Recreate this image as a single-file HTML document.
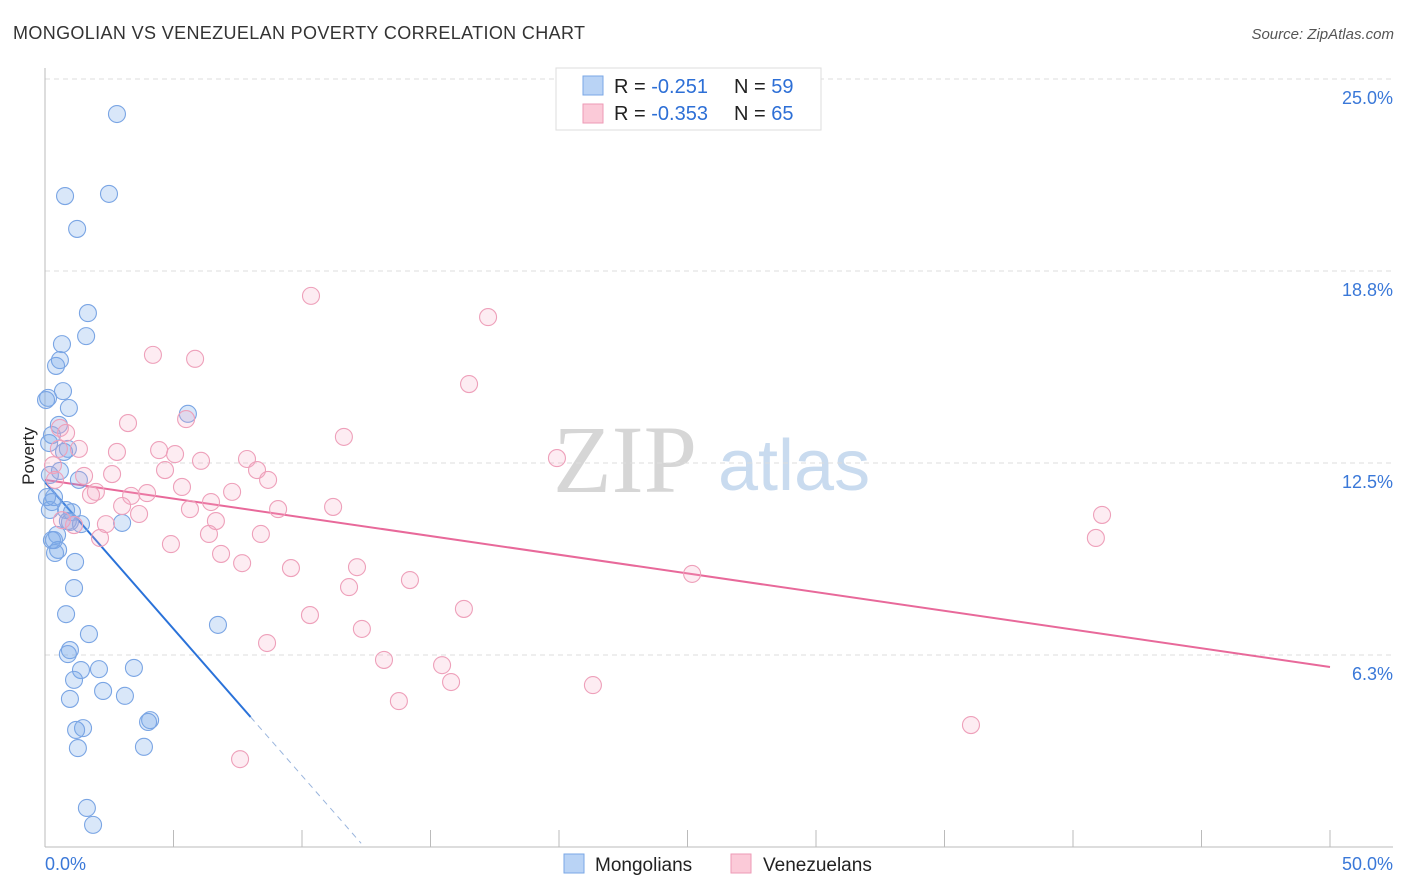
<!DOCTYPE html>
<html><head><meta charset="utf-8"><style>
body{margin:0;background:#fff;font-family:"Liberation Sans",sans-serif}
</style></head><body>
<svg id="chart" width="1406" height="892" xmlns="http://www.w3.org/2000/svg" style="display:block">
<text x="13" y="39" font-size="18" fill="#333" font-family="Liberation Sans" textLength="572">MONGOLIAN VS VENEZUELAN POVERTY CORRELATION CHART</text>
<text x="1394" y="39" font-size="15" fill="#555" font-style="italic" text-anchor="end">Source: ZipAtlas.com</text>
<text x="553" y="492" font-size="96" fill="#d6d6d6" font-family="Liberation Serif">ZIP</text>
<text x="718" y="490" font-size="72" fill="#c9dbef">atlas</text>
<g id="grid"></g><g id="axes"></g><g id="trend"></g><g id="pts"></g>
<text transform="translate(34,456) rotate(-90)" font-size="17" fill="#222" text-anchor="middle">Poverty</text>
<g>
<rect x="556" y="68" width="265" height="62" fill="#fff" stroke="#ddd"/>
<rect x="583" y="76" width="20" height="19" fill="#b9d3f5" stroke="#7aa7e6"/>
<rect x="583" y="104" width="20" height="19" fill="#fbcad8" stroke="#ee9ab6"/>
<text x="614" y="93" font-size="20" fill="#222">R = <tspan fill="#2d6fd6"> -0.251</tspan><tspan x="734">N = </tspan><tspan fill="#2d6fd6">59</tspan></text>
<text x="614" y="120" font-size="20" fill="#222">R = <tspan fill="#2d6fd6">-0.353</tspan><tspan x="734">N = </tspan><tspan fill="#2d6fd6">65</tspan></text>
</g>
<g>
<rect x="564" y="854" width="20" height="19" fill="#b9d3f5" stroke="#7aa7e6"/>
<text x="595" y="871" font-size="19" fill="#222">Mongolians</text>
<rect x="731" y="854" width="20" height="19" fill="#fbcad8" stroke="#ee9ab6"/>
<text x="763" y="871" font-size="19" fill="#222">Venezuelans</text>
</g>
</svg>
<script>
const yTicks=[6.25,12.5,18.75,25];
const yTickLabels=["6.3%","12.5%","18.8%","25.0%"];
const xTickLabels=["0.0%","50.0%"];
const mongX=[2.80,0.78,2.49,1.25,1.67,1.60,0.66,0.58,0.43,0.70,0.12,0.93,5.56,0.54,0.27,0.89,0.74,0.58,1.32,0.35,0.27,0.19,0.82,1.05,0.89,1.40,3.00,0.47,0.35,0.51,0.39,1.17,1.13,0.82,1.71,0.97,0.89,6.73,3.46,1.40,2.10,1.13,2.26,3.11,0.97,1.48,1.21,4.09,4.01,1.28,3.85,1.63,1.87,0.19,0.04,0.08,0.16,0.97,0.27];
const mongY=[23.86,21.19,21.26,20.12,17.38,16.63,16.37,15.85,15.66,14.84,14.62,14.29,14.10,13.74,13.41,12.96,12.86,12.24,11.95,11.39,11.23,10.97,10.97,10.90,10.61,10.51,10.55,10.16,9.99,9.67,9.57,9.28,8.43,7.58,6.93,6.41,6.28,7.23,5.83,5.76,5.79,5.44,5.08,4.92,4.82,3.87,3.81,4.13,4.07,3.22,3.26,1.27,0.72,12.11,14.55,11.39,13.15,10.58,9.99];
const venX=[10.35,17.24,4.20,5.84,16.50,5.49,3.23,11.63,0.58,0.82,0.54,1.32,2.80,4.44,5.06,6.07,7.86,19.92,4.67,8.25,2.61,1.52,8.68,5.33,7.28,1.98,1.79,3.97,3.35,6.46,3.00,5.64,11.21,9.07,3.66,6.65,2.37,1.13,2.14,6.38,8.40,4.90,6.85,7.67,9.57,12.14,14.20,11.83,25.18,41.13,40.89,16.30,10.31,12.33,8.64,13.19,15.45,15.80,21.32,13.77,36.03,7.59,0.31,0.39,0.66];
const venY=[17.94,17.25,16.02,15.89,15.07,13.93,13.80,13.35,13.64,13.48,12.96,12.96,12.86,12.92,12.79,12.57,12.63,12.66,12.27,12.27,12.14,12.08,11.95,11.72,11.56,11.56,11.46,11.52,11.43,11.23,11.10,11.00,11.07,11.00,10.84,10.61,10.51,10.48,10.06,10.19,10.19,9.86,9.54,9.24,9.08,9.11,8.69,8.46,8.89,10.81,10.06,7.75,7.55,7.10,6.64,6.09,5.92,5.37,5.27,4.75,3.97,2.86,12.43,11.95,10.64];
const mongTrend=[11.88,-0.956];
const venTrend=[11.95,-0.1218];
const NS="http://www.w3.org/2000/svg";
const xs=v=>45+v*25.7, ys=v=>847-v*30.72;
function mk(tag,attrs,parent){const e=document.createElementNS(NS,tag);for(const k in attrs)e.setAttribute(k,attrs[k]);document.getElementById(parent).appendChild(e);return e;}
yTicks.forEach((t,i)=>{
 const g=mk('line',{x1:45,x2:1393,y1:ys(t),y2:ys(t),stroke:'#ddd','stroke-dasharray':'5,4'},'grid');
 
 
 const l=mk('text',{x:1393,y:ys(t)+25,'font-size':18,fill:'#3a78d8','text-anchor':'end'},'grid');l.textContent=yTickLabels[i];
 
 
});
const ax=mk('line',{x1:45,x2:1393,y1:847,y2:847,stroke:'#bbb'},'axes');


const ay=mk('line',{x1:45,x2:45,y1:68,y2:847,stroke:'#bbb'},'axes');


for(let i=0;i<=10;i++){const t=mk('line',{x1:xs(i*5),x2:xs(i*5),y1:830,y2:847,stroke:'#bbb'},'axes');
 
 }
const xl0=mk('text',{x:45,y:870,'font-size':18,fill:'#3a78d8'},'axes');xl0.textContent=xTickLabels[0];


const xl1=mk('text',{x:1393,y:870,'font-size':18,fill:'#3a78d8','text-anchor':'end'},'axes');xl1.textContent=xTickLabels[1];


mongX.forEach((x,i)=>{const c=mk('circle',{cx:xs(x),cy:ys(mongY[i]),r:8.5,fill:'rgba(120,170,235,0.28)',stroke:'#7aa5e4','stroke-width':1.1},'pts');
 
 });
venX.forEach((x,i)=>{const c=mk('circle',{cx:xs(x),cy:ys(venY[i]),r:8.5,fill:'rgba(245,170,195,0.22)',stroke:'#eea0ba','stroke-width':1.1},'pts');
 
 });
const mt=v=>mongTrend[0]+mongTrend[1]*v, vt=v=>venTrend[0]+venTrend[1]*v;
const b1=mk('line',{x1:xs(0),y1:ys(mt(0)),x2:xs(8),y2:ys(mt(8)),stroke:'#2a72d9','stroke-width':2},'trend');


const b2=mk('line',{x1:xs(8),y1:ys(mt(8)),x2:xs(12.3),y2:ys(mt(12.3)),stroke:'#9ab5dd','stroke-width':1,'stroke-dasharray':'6,5'},'trend');


const p1=mk('line',{x1:xs(0),y1:ys(vt(0)),x2:xs(50),y2:ys(vt(50)),stroke:'#e8699a','stroke-width':2},'trend');


</script>
</body></html>
